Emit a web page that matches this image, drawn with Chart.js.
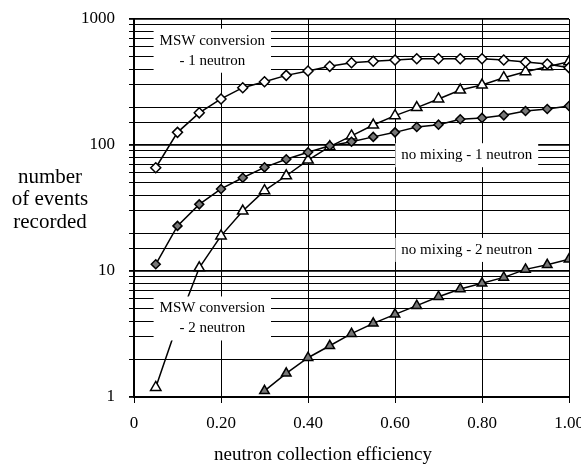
<!DOCTYPE html>
<html>
<head>
<meta charset="utf-8">
<script src="https://cdn.jsdelivr.net/npm/chart.js@4"></script>
<style>
  html, body { margin: 0; padding: 0; background: #fff; }
  #wrap { width: 581px; height: 464px; position: relative; }
</style>
</head>
<body>
<div id="wrap"><canvas id="chart"></canvas></div>
<script>
// collection efficiency values (x)
const efficiency = [0.05, 0.10, 0.15, 0.20, 0.25, 0.30, 0.35, 0.40, 0.45, 0.50,
                    0.55, 0.60, 0.65, 0.70, 0.75, 0.80, 0.85, 0.90, 0.95, 1.00];
const efficiency2n = efficiency.slice(5); // no mixing 2n starts at 0.30

// events recorded
const mswOne = [66, 126, 180, 232, 285, 318, 357, 387, 421, 450,
                462, 473, 484, 484, 484, 484, 473, 456, 439, 411];
const noMixOne = [11.3, 22.8, 33.8, 44.8, 55, 66.5, 77, 87.5, 98.7, 106,
                  116, 126, 139, 145, 160, 164, 172, 186, 193, 204];
const mswTwo = [1.19, 3.8, 10.6, 19, 29.9, 43.4, 57, 76, 97, 118,
                144, 171, 198, 232, 273, 299, 342, 382, 418, 458];
const noMixTwo = [1.12, 1.54, 2.05, 2.55, 3.18, 3.84, 4.53, 5.31, 6.25, 7.2,
                  7.99, 8.9, 10.3, 11.2, 12.4];

const yTicks = [1, 10, 100, 1000];
const xTicks = [0, 0.2, 0.4, 0.6, 0.8, 1.0];

// curve labels, placed in data units
const curveLabels = [
  { lines: ['MSW conversion', '- 1 neutron'], x: 0.18, y: 560 },
  { lines: ['no mixing - 1 neutron'], x: 0.765, y: 83 },
  { lines: ['MSW conversion', '- 2 neutron'], x: 0.18, y: 4.2 },
  { lines: ['no mixing - 2 neutron'], x: 0.765, y: 14.7 }
];

const FONT = '"Liberation Serif", "Times New Roman", serif';

function pts(xs, ys) {
  return ys.map((v, i) => ({ x: xs[i], y: v }));
}

function series(xs, ys, shape, fill, radius) {
  return {
    data: pts(xs, ys),
    borderColor: '#000',
    borderWidth: 1.5,
    pointStyle: shape,
    pointRadius: radius,
    pointBackgroundColor: fill,
    pointBorderColor: '#000',
    pointBorderWidth: 1.5,
    tension: 0,
    fill: false
  };
}

// labels drawn on white boxes over the grid
const labelPlugin = {
  id: 'curveLabels',
  afterDatasetsDraw(chart) {
    const ctx = chart.ctx;
    const xs = chart.scales.x, ys = chart.scales.y;
    ctx.save();
    ctx.font = '15px ' + FONT;
    ctx.textAlign = 'center';
    ctx.textBaseline = 'middle';
    curveLabels.forEach(l => {
      const cx = xs.getPixelForValue(l.x);
      const cy = ys.getPixelForValue(l.y);
      const lh = 20;
      const w = Math.max(...l.lines.map(t => ctx.measureText(t).width)) + 12;
      const h = l.lines.length * lh + 4;
      ctx.fillStyle = '#fff';
      ctx.fillRect(cx - w / 2, cy - h / 2, w, h);
      ctx.fillStyle = '#000';
      l.lines.forEach((t, i) => {
        ctx.fillText(t, cx, cy - (l.lines.length - 1) * lh / 2 + i * lh);
      });
    });
    ctx.restore();
  }
};

// axis titles
const titlePlugin = {
  id: 'axisTitles',
  afterDraw(chart) {
    const ctx = chart.ctx;
    ctx.save();
    ctx.fillStyle = '#000';
    ctx.textAlign = 'center';
    ctx.textBaseline = 'middle';
    ctx.font = '21px ' + FONT;
    ['number', 'of events', 'recorded'].forEach((t, i) => {
      ctx.fillText(t, 50, 177 + i * 22.5);
    });
    ctx.font = '19px ' + FONT;
    ctx.fillText('neutron collection efficiency', 323, 455);
    ctx.restore();
  }
};

new Chart(document.getElementById('chart'), {
  type: 'line',
  data: {
    datasets: [
      series(efficiency, mswOne, 'rectRot', '#fff', 5),
      series(efficiency, noMixOne, 'rectRot', '#777', 4.5),
      series(efficiency, mswTwo, 'triangle', '#fff', 6),
      series(efficiency2n, noMixTwo, 'triangle', '#777', 5.5)
    ]
  },
  options: {
    responsive: true,
    maintainAspectRatio: false,
    animation: false,
    events: [],
    layout: { autoPadding: false, padding: { top: 19, right: 12, left: 0, bottom: 0 } },
    plugins: { legend: { display: false }, tooltip: { enabled: false } },
    scales: {
      x: {
        type: 'linear',
        min: 0, max: 1,
        afterFit(s) {
          s.height = 67;
          s.paddingLeft = 0; s.paddingRight = 0;
        },
        afterBuildTicks(s) { s.ticks = xTicks.map(v => ({ value: v })); },
        grid: { color: '#000', lineWidth: 1, tickLength: 6 },
        border: { color: '#000', width: 2 },
        ticks: {
          color: '#000',
          padding: 10,
          maxRotation: 0,
          font: { family: FONT, size: 17 },
          callback: v => v === 0 ? '0' : v.toFixed(2)
        }
      },
      y: {
        type: 'logarithmic',
        min: 1, max: 1000,
        afterFit(s) {
          s.width = 134;
          s.paddingTop = 0; s.paddingBottom = 0;
        },
        grid: {
          color: '#000',
          lineWidth: c => yTicks.includes(c.tick && c.tick.value) ? 1.8 : 1,
          tickLength: 5
        },
        border: { color: '#000', width: 2 },
        ticks: {
          autoSkip: false,
          color: '#000',
          padding: 14,
          font: { family: FONT, size: 17 },
          callback: v => yTicks.includes(v) ? String(v) : ''
        }
      }
    }
  },
  plugins: [labelPlugin, titlePlugin]
});
</script>
</body>
</html>
